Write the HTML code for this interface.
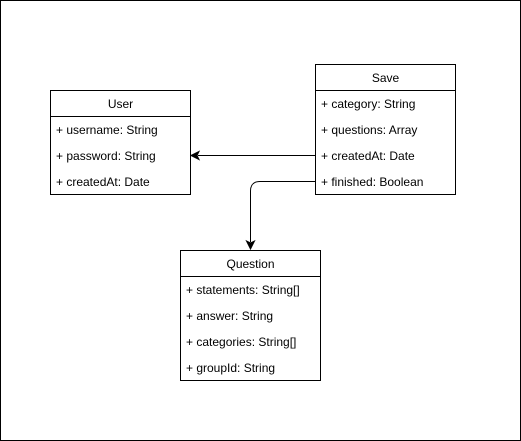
<!DOCTYPE html>
<html><head><style>body{margin:0;background:#fff}svg{display:block}</style></head><body>
<svg width="521" height="441" viewBox="0 0 521 441" xmlns="http://www.w3.org/2000/svg" font-family="Liberation Sans, Arial, sans-serif" font-size="12">
<rect x="0.5" y="0.5" width="520" height="440" fill="#fff" stroke="#000"/>
<g fill="#fff" stroke="#000">
<rect x="50.5" y="90.5" width="140" height="104"/><line x1="50.5" y1="116.5" x2="190.5" y2="116.5"/>
<rect x="315.5" y="64.5" width="140" height="130"/><line x1="315.5" y1="90.5" x2="455.5" y2="90.5"/>
<rect x="180.5" y="250.5" width="140" height="130"/><line x1="180.5" y1="276.5" x2="320.5" y2="276.5"/>
</g>
<g fill="none" stroke="#000">
<line x1="315" y1="155.5" x2="198" y2="155.5"/>
<path d="M315 181.5 H260 Q250.5 181.5 250.5 191 V242"/>
</g>
<path d="M191 155.5 L199 151.5 L197 155.5 L199 159.5Z" fill="#000" stroke="#000"/>
<path d="M250.5 249 L246.5 241 L250.5 243 L254.5 241Z" fill="#000" stroke="#000"/>
<g fill="#000" text-anchor="middle">
<text x="120.5" y="108">User</text><text x="385.5" y="82">Save</text><text x="250.5" y="268">Question</text>
</g>
<g fill="#000">
<text x="56" y="134">+ username: String</text><text x="56" y="160">+ password: String</text><text x="56" y="186">+ createdAt: Date</text>
<text x="321" y="108">+ category: String</text><text x="321" y="134">+ questions: Array</text><text x="321" y="160">+ createdAt: Date</text><text x="321" y="186">+ finished: Boolean</text>
<text x="186" y="294">+ statements: String[]</text><text x="186" y="320">+ answer: String</text><text x="186" y="346">+ categories: String[]</text><text x="186" y="372">+ groupId: String</text>
</g>
</svg>
</body></html>
